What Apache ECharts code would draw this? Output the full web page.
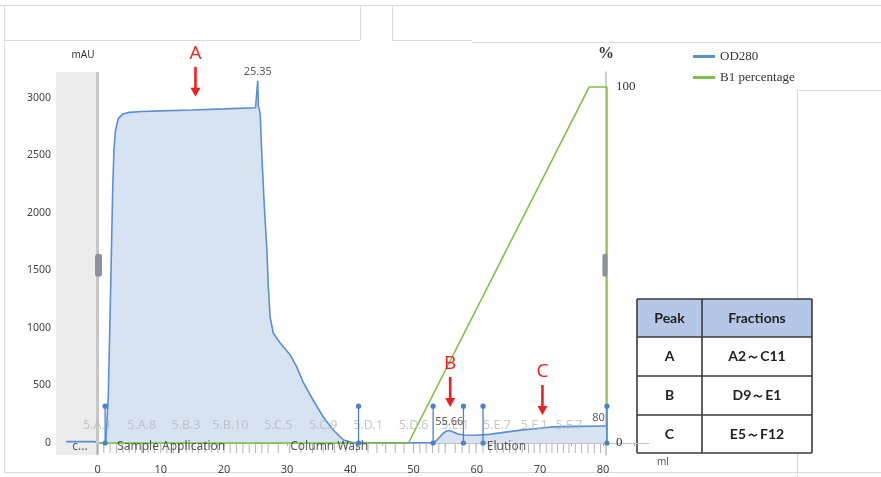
<!DOCTYPE html>
<html><head><meta charset="utf-8">
<script src="https://cdn.jsdelivr.net/npm/echarts@6/dist/echarts.min.js"></script>
<style>html,body{margin:0;padding:0;background:#fff}#c{width:881px;height:477px}</style>
</head><body><div id="c"></div><script>
// OD280 absorbance trace: volume (ml) and absorbance (mAU)
const odMl  = [-5, -0.5, 0, 1.3, 1.7, 2.1, 2.4, 2.6, 2.85, 3.3, 4.0, 5, 7, 10, 15, 20, 25.0, 25.25, 25.35, 25.45, 25.6, 25.75, 26.0, 26.4, 26.8, 27.0, 27.3, 27.8, 28.9, 30.5, 31.5, 32.6, 34.1, 35.7, 37.3, 38.9, 40.5, 45, 50, 53.1, 53.6, 54.2, 54.7, 55.2, 55.66, 56.3, 57.0, 58.0, 60.0, 62.0, 64.0, 67.0, 70.0, 72.0, 76.0, 80.6];
const odMau = [12, 12, 2, 0, 400, 1400, 2200, 2550, 2720, 2823, 2860, 2875, 2882, 2888, 2896, 2905, 2915, 2925, 3150, 2925, 2900, 2850, 2500, 2050, 1678, 1391, 1098, 957, 870, 765, 664, 522, 374, 228, 113, 26, 3, 2, 2, 5, 20, 55, 85, 103, 108, 95, 78, 70, 68, 75, 90, 112, 128, 140, 145, 148];

// B1 gradient: volume (ml) and percentage
const b1Ml  = [0, 49.2, 77.8, 80.6, 80.6];
const b1Pct = [0, 0, 100, 100, 0];

// Peak retention labels
const peakMl   = [25.35, 55.66, 80.6];
const peakMau  = [3150, 108, 148];
const peakText = ['25.35', '55.66', '80'];

// Run log event markers (ml)
const logMl = [1.2, 41.3, 53.1, 57.9, 61.0, 80.6];

// Fraction boundaries (ml) and fraction names
const fracMl = [0, 1, 2, 3, 4, 5, 6, 7, 8, 9, 10, 11, 12, 13, 14, 15, 16, 17, 18, 19, 20, 21, 22, 23, 24, 25, 26, 27, 28.6, 30.4, 32.2, 34, 35.7, 37.5, 39.3, 41, 42.8, 44.2, 45.6, 47.1, 48.5, 50, 51, 52, 53, 54, 55, 56.6, 57.7, 58.8, 59.9, 61, 62.1, 63.2, 64.2, 65.2, 66.2, 67.2, 68.2, 69.1, 70, 71, 71.9, 72.8, 73.7, 74.6, 75.6, 76.6, 77.6, 78.6, 79.6];
const fracLabelMl   = [0.0, 7.0, 14.0, 21.0, 28.6, 35.7, 42.8, 50.0, 56.6, 63.2, 69.1, 74.6];
const fracLabelText = ['5.A.1', '5.A.8', '5.B.3', '5.B.10', '5.C.5', '5.C.9', '5.D.1', '5.D.6', '5.E.1', '5.E.7', '5.F.1', '5.F.7'];

// Method block names (start volume, ml)
const blockMl   = [-4.0, 3.1, 30.5, 61.6];
const blockText = ['c...', 'Sample Application', 'Column Wash', 'Elution'];

// Peak call-outs: letter, volume (ml), arrow tip (mAU)
const annoText = ['A', 'B', 'C'];
const annoMl   = [15.5, 55.8, 70.4];
const annoTip  = [3010, 313, 243];

// Pooled fractions table
const tableHead = ['Peak', 'Fractions'];
const tablePeak = ['A', 'B', 'C'];
const tableFrac = ['A2\uFF5EC11', 'D9\uFF5EE1', 'E5\uFF5EF12'];

// Axis ticks
const xLabelTicks = [0, 10, 20, 30, 40, 50, 60, 70, 80];
const xMinorTicks = [-5, 0, 5, 10, 15, 20, 25, 30, 35, 40, 45, 50, 55, 60, 65, 70, 75, 80, 85];
const yLabelTicks = [0, 500, 1000, 1500, 2000, 2500, 3000];
const yMinorTicks = [0, 250, 500, 750, 1000, 1250, 1500, 1750, 2000, 2250, 2500, 2750, 3000];
const pctLabelTicks = [0, 100];

const SANS = '"Noto Sans", "Open Sans", sans-serif';
const SERIF = '"Liberation Serif", "DejaVu Serif", serif';
const BLUE = '#5a8fd4';
const GREEN = '#7dc242';
const zip = (a, b) => a.map((v, i) => [v, b[i]]);
const plain = v => String(v);

const chart = echarts.init(document.getElementById('c'));

const LOG_TOP = 320;       // height of run-log markers, mAU
const FRAC_LABEL_Y = 157;  // baseline for fraction names, mAU
const BLOCK_Y = -35;       // baseline for block names, mAU
const HANDLE_Y = 1550;     // zoom handle centre, mAU

const option = {
  animation: false,
  backgroundColor: '#fff',
  grid: { left: 56, top: 72, width: 593, height: 383 },
  legend: {
    left: 688, top: 45, orient: 'vertical', itemWidth: 22, itemHeight: 3, itemGap: 8,
    icon: 'rect', data: ['OD280', 'B1 percentage'],
    textStyle: { fontFamily: SERIF, fontSize: 13, color: '#333' }
  },
  xAxis: {
    type: 'value', min: -6.57, max: 87.26,
    name: 'ml', nameLocation: 'end', nameGap: 8,
    nameTextStyle: { fontFamily: SANS, fontSize: 10, color: '#555', verticalAlign: 'top', padding: [14, 0, 0, 0] },
    axisLine: { lineStyle: { color: '#c4c4c4', width: 1 } },
    axisTick: { customValues: xMinorTicks, length: 3, lineStyle: { color: '#b0b0b0' } },
    axisLabel: { customValues: xLabelTicks, formatter: plain, fontFamily: SANS, fontSize: 11, color: '#444', margin: 9 },
    splitLine: { show: false }
  },
  yAxis: [{
    type: 'value', min: -104.3, max: 3226,
    name: 'mAU', nameLocation: 'end', nameGap: 12,
    nameTextStyle: { fontFamily: SANS, fontSize: 10, color: '#333', align: 'right', padding: [0, 3, 0, 0] },
    axisLine: { show: true, lineStyle: { color: '#c4c4c4' } },
    axisTick: { show: true, customValues: yMinorTicks, length: 4, lineStyle: { color: '#a8a8a8' } },
    axisLabel: { customValues: yLabelTicks, formatter: plain, fontFamily: SANS, fontSize: 10.5, color: '#444', margin: 5 },
    splitLine: { show: false }
  }, {
    type: 'value', position: 'right', offset: -43, min: -3.37, max: 104.2,
    name: '%', nameLocation: 'end', nameGap: 10,
    nameTextStyle: { fontFamily: SERIF, fontSize: 16, fontWeight: 'bold', color: '#333' },
    axisLine: { show: true, lineStyle: { color: '#b8c4b4', width: 1.5 } },
    axisTick: { show: false },
    axisLabel: { customValues: pctLabelTicks, formatter: plain, fontFamily: SERIF, fontSize: 13, color: '#333', margin: 10 },
    splitLine: { show: false }
  }],
  series: [
    {
      name: 'OD280', type: 'line', data: zip(odMl, odMau), showSymbol: false, z: 3,
      lineStyle: { color: BLUE, width: 1.6 }, itemStyle: { color: BLUE },
      areaStyle: { color: '#d7e3f2', opacity: 1 },
      markArea: { silent: true, itemStyle: { color: '#ececec' }, data: [[{ xAxis: -6.57 }, { xAxis: 0 }]] },
      markLine: { silent: true, symbol: 'none', label: { show: false },
        lineStyle: { color: '#c6c6c6', width: 3, type: 'solid' }, data: [{ xAxis: 0 }] }
    },
    {
      name: 'B1 percentage', type: 'line', yAxisIndex: 1, data: zip(b1Ml, b1Pct), showSymbol: false, z: 4,
      lineStyle: { color: GREEN, width: 1.6 }, itemStyle: { color: GREEN }
    },
    {
      // fraction boundary ticks
      type: 'custom', z: 5, silent: true,
      data: fracMl.map(v => [v, 0]),
      renderItem: (params, api) => {
        const p = api.coord([api.value(0), 0]);
        return { type: 'line', shape: { x1: p[0], y1: p[1] + 1, x2: p[0], y2: p[1] + 10 },
          style: { stroke: '#b4b4b4', lineWidth: 1 } };
      }
    },
    {
      // fraction names
      type: 'scatter', symbolSize: 0, z: 6, silent: true,
      data: fracLabelMl.map(v => [v, FRAC_LABEL_Y]),
      label: { show: true, position: 'inside', color: '#bababa', fontFamily: SANS, fontSize: 12.5,
        formatter: p => fracLabelText[p.dataIndex] }
    },
    {
      // method block names
      type: 'scatter', symbolSize: 0, z: 7, silent: true,
      data: blockMl.map(v => [v, BLOCK_Y]),
      label: { show: true, position: 'right', distance: 0, color: '#333', fontFamily: SANS, fontSize: 12,
        formatter: p => blockText[p.dataIndex] }
    },
    {
      // run-log markers
      type: 'custom', z: 8, silent: true,
      data: logMl.map(v => [v, LOG_TOP]),
      renderItem: (params, api) => {
        const x = api.value(0);
        const a = api.coord([x, 0]), b = api.coord([x, api.value(1)]);
        return { type: 'group', children: [
          { type: 'line', shape: { x1: a[0], y1: a[1], x2: b[0], y2: b[1] }, style: { stroke: '#4a82cc', lineWidth: 1.3 } },
          { type: 'circle', shape: { cx: a[0], cy: a[1], r: 2.6 }, style: { fill: '#4a82cc' } },
          { type: 'circle', shape: { cx: b[0], cy: b[1], r: 2.6 }, style: { fill: '#4a82cc' } }
        ] };
      }
    },
    {
      // peak labels
      type: 'scatter', symbolSize: 0, z: 9, silent: true,
      data: peakMl.map((v, i) => {
        const d = { value: [v, peakMau[i]] };
        if (i === 2) d.label = { align: 'right', offset: [-2, 0] };
        return d;
      }),
      label: { show: true, position: 'top', distance: 3, color: '#333', fontFamily: SANS, fontSize: 11,
        formatter: p => peakText[p.dataIndex] }
    },
    {
      // zoom handles at the edges of the data range
      type: 'custom', z: 10, silent: true,
      data: [[0, HANDLE_Y], [80.6, HANDLE_Y]],
      renderItem: (params, api) => {
        const p = api.coord([api.value(0), api.value(1)]);
        const w = params.dataIndex === 0 ? 7 : 5;
        const cx = params.dataIndex === 0 ? p[0] + 1 : p[0] - 2;
        return { type: 'rect', shape: { x: cx - w / 2, y: p[1] - 11, width: w, height: 23, r: 3 },
          style: { fill: '#8a939b' } };
      }
    },
    {
      // peak call-outs
      type: 'custom', z: 11, silent: true, clip: false,
      data: annoMl.map((v, i) => [v, annoTip[i]]),
      renderItem: (params, api) => {
        const p = api.coord([api.value(0), api.value(1)]);
        const x = p[0], y = p[1];
        const red = '#f01e1e';
        return { type: 'group', children: [
          { type: 'line', shape: { x1: x, y1: y - 30, x2: x, y2: y - 7 }, style: { stroke: red, lineWidth: 2.6 } },
          { type: 'polygon', shape: { points: [[x - 5, y - 9], [x + 5, y - 9], [x, y]] }, style: { fill: red } },
          { type: 'text', x: x, y: y - 43, style: { text: annoText[params.dataIndex], fill: red,
            font: '19px "Open Sans", sans-serif', align: 'center', verticalAlign: 'middle' } }
        ] };
      }
    }
  ]
};

// Page frame lines and the pooled fractions table
const frame = '#d9d9d9';
const ln = (x1, y1, x2, y2, c, w) => ({ type: 'line', silent: true, shape: { x1, y1, x2, y2 }, style: { stroke: c || frame, lineWidth: w || 1 } });
const graphics = [
  ln(0, 5.5, 881, 5.5), ln(4.5, 5, 4.5, 472), ln(4, 40.5, 360, 40.5), ln(360.5, 5, 360.5, 40),
  ln(392.5, 5, 392.5, 40), ln(392, 40.5, 472, 40.5), ln(472, 42.5, 881, 42.5),
  ln(797.5, 90, 797.5, 477), ln(797, 90.5, 881, 90.5), ln(4, 472.5, 881, 472.5)
];
const tx = [637, 702, 812];
const ty = [299, 337, 376, 415, 453];
graphics.push({ type: 'rect', silent: true, shape: { x: tx[0], y: ty[0], width: tx[2] - tx[0], height: ty[1] - ty[0] }, style: { fill: '#b4c7e7' } });
graphics.push({ type: 'rect', silent: true, shape: { x: tx[0], y: ty[1], width: tx[2] - tx[0], height: ty[4] - ty[1] }, style: { fill: '#fff' } });
ty.forEach(y => graphics.push(ln(tx[0], y, tx[2], y, '#3a3a3a', 1.6)));
tx.forEach(x => graphics.push(ln(x, ty[0], x, ty[4], '#3a3a3a', 1.6)));
const cell = (text, col, row) => ({ type: 'text', silent: true, x: (tx[col] + tx[col + 1]) / 2, y: (ty[row] + ty[row + 1]) / 2,
  style: { text, fill: '#222', font: 'bold 14px Lato, "Open Sans", sans-serif', align: 'center', verticalAlign: 'middle' } });
graphics.push(cell(tableHead[0], 0, 0), cell(tableHead[1], 1, 0));
tablePeak.forEach((t, i) => { graphics.push(cell(t, 0, i + 1), cell(tableFrac[i], 1, i + 1)); });
option.graphic = graphics;

chart.setOption(option);
</script></body></html>
